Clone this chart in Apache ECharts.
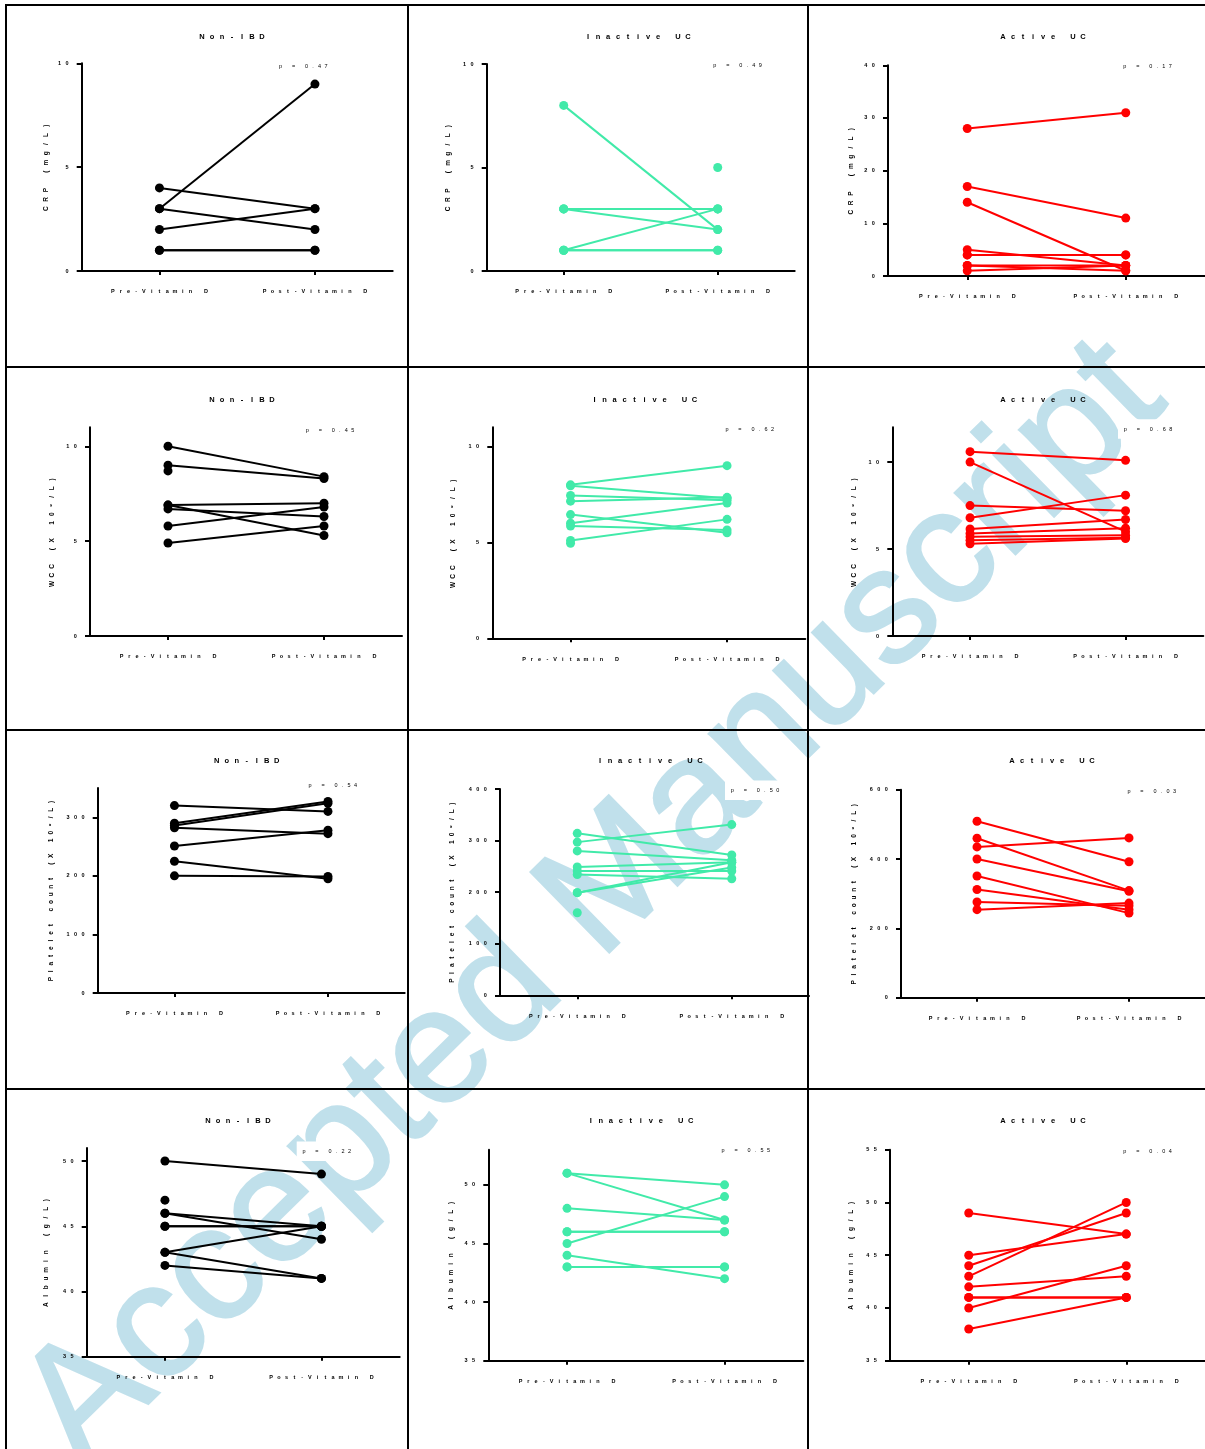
<!DOCTYPE html>
<html><head><meta charset="utf-8">
<script src="https://cdn.jsdelivr.net/npm/echarts@6/dist/echarts.min.js"></script>
<style>html,body{margin:0;padding:0;background:#fff}#c{width:1205px;height:1449px}</style>
</head><body><div id="c"></div>
<script>
// ---------------- data ----------------
const categories = ['Pre-Vitamin D', 'Post-Vitamin D'];
const groups = ['Non-IBD', 'Inactive UC', 'Active UC'];
const measures = ['CRP (mg/L)', 'WCC (X 10⁹/L)', 'Platelet count (X 10⁹/L)', 'Albumin (g/L)'];
const pLabels = [
  ['p = 0.47', 'p = 0.49', 'p = 0.17'],
  ['p = 0.45', 'p = 0.62', 'p = 0.68'],
  ['p = 0.54', 'p = 0.50', 'p = 0.03'],
  ['p = 0.22', 'p = 0.55', 'p = 0.04']
];
// y-axis ranges and tick labels
const yRanges = [
  [[0, 10], [0, 10], [0, 40]],
  [[0, 11], [0, 11], [0, 12]],
  [[0, 350], [0, 400], [0, 600]],
  [[35, 51], [35, 53], [35, 55]]
];
const yTicks = [
  [[0, 5, 10], [0, 5, 10], [0, 10, 20, 30, 40]],
  [[0, 5, 10], [0, 5, 10], [0, 5, 10]],
  [[0, 100, 200, 300], [0, 100, 200, 300, 400], [0, 200, 400, 600]],
  [[35, 40, 45, 50], [35, 40, 45, 50], [35, 40, 45, 50, 55]]
];
// paired values (pre / post) per panel, null = unpaired
const crpNonPre = [3, 4, 3, 2, 1, 1];
const crpNonPost = [9, 3, 2, 3, 1, 1];
const crpInPre = [8, 3, 3, 3, 1, 1, 1, null];
const crpInPost = [2, 3, 3, 2, 3, 1, 1, 5];
const crpActPre = [28, 17, 14, 5, 4, 4, 2, 2, 1];
const crpActPost = [31, 11, 1, 2, 4, 4, 2, 1, 2];

const wccNonPre = [10, 9.0, 8.7, 6.9, 6.9, 6.7, 5.8, 4.9];
const wccNonPost = [8.4, 8.3, null, 7.0, 5.3, 6.3, 6.8, 5.8];
const wccInPre = [8.0, 7.95, 7.45, 7.15, 6.45, 6.0, 5.85, 5.1, 4.95];
const wccInPost = [9.0, 7.3, 7.2, 7.35, 5.5, 7.05, 5.65, 6.2, null];
const wccActPre = [10.6, 10.0, 7.5, 6.8, 6.15, 5.9, 5.7, 5.5, 5.3];
const wccActPost = [10.1, 6.0, 7.2, 8.1, 6.7, 6.2, 5.8, 5.65, 5.6];

const pltNonPre = [320, 290, 286, 282, 251, 225, 200];
const pltNonPost = [310, 327, 324, 272, 278, 195, 199];
const pltInPre = [314, 297, 280, 249, 241, 234, 199, 199, 160];
const pltInPost = [272, 331, 262, 258, 241, 226, 258, 248, null];
const pltActPre = [509, 460, 435, 400, 351, 312, 276, 254];
const pltActPost = [392, 309, 461, 307, 244, 254, 265, 273];

const albNonPre = [50, 47, 46, 46, 45, 45, 43, 43, 42];
const albNonPost = [49, null, 45, 44, 45, 45, 45, 41, 41];
const albInPre = [51, 51, 48, 46, 46, 45, 44, 43, 43];
const albInPost = [50, 47, 47, 46, 46, 49, 42, 43, 43];
const albActPre = [49, 45, 44, 43, 42, 41, 41, 40, 38];
const albActPost = [47, 47, 49, 50, 43, 41, 41, 44, 41];

const panelData = [
  [[crpNonPre, crpNonPost], [crpInPre, crpInPost], [crpActPre, crpActPost]],
  [[wccNonPre, wccNonPost], [wccInPre, wccInPost], [wccActPre, wccActPost]],
  [[pltNonPre, pltNonPost], [pltInPre, pltInPost], [pltActPre, pltActPost]],
  [[albNonPre, albNonPost], [albInPre, albInPost], [albActPre, albActPost]]
];

// ---------------- layout / style ----------------
const groupColors = ['#000000', '#41eaa9', '#ff0000'];
// grid boxes [left, top, width, height]
const gridBoxes = [
  [[81.7, 63.3, 311, 207.7], [486.7, 64, 308, 207], [888, 65.3, 318, 210.7]],
  [[90, 427.3, 312, 208.7], [492.3, 427.3, 313, 211], [892.3, 427.3, 311, 208.7]],
  [[97.7, 788, 307, 205], [500, 789, 309, 206.3], [901, 789.7, 312, 208]],
  [[86.7, 1148, 313, 208.7], [488.3, 1149.7, 315, 211], [890, 1149.7, 316, 211]]
];
const nameGaps = [[31, 34, 33], [34, 35, 34], [42, 44, 43], [36, 33, 35]];
const namePitch = [9.2, 8.7, 7.7, 8.7];
const titlePos = [
  [[232, 36.5], [638, 36.5], [1043, 36.5]],
  [[242, 399.5], [644.5, 399.5], [1043, 399.5]],
  [[246.7, 760.5], [650, 761], [1052, 761]],
  [[238, 1120.5], [640.8, 1120.5], [1043, 1120.5]]
];
const pPos = [
  [[303.3, 66], [737.5, 65.5], [1147.5, 66]],
  [[330, 430], [749.7, 429], [1148, 429]],
  [[332.8, 785.3], [755, 790.3], [1151.7, 791.3]],
  [[326.7, 1151.3], [745.8, 1150.7], [1147.5, 1151.3]]
];
const FONT = '"Liberation Sans", Arial, sans-serif';

function spaced(s, key) {
  return Array.from(String(s)).map(ch => '{' + key + '|' + ch + '}').join('');
}
function tok(width, size, weight, color) {
  return { width: width, align: 'center', fontSize: size, fontWeight: weight, fontFamily: FONT, color: color, lineHeight: size + 2 };
}

const grids = [], xAxes = [], yAxes = [], series = [], graphics = [];

// watermark (behind everything)
graphics.push({
  type: 'text', x: 594, y: 904, rotation: 0.775, z: -10, silent: true,
  style: { text: 'Accepted Manuscript', font: 'normal 163px ' + FONT, fill: '#c0e0eb',
    stroke: '#c0e0eb', lineWidth: 2.5, align: 'center', verticalAlign: 'middle' }
});

let idx = 0;
for (let r = 0; r < 4; r++) {
  for (let c = 0; c < 3; c++) {
    const b = gridBoxes[r][c];
    grids.push({ left: b[0], top: b[1], width: b[2], height: b[3], containLabel: false });
    xAxes.push({
      type: 'category', gridIndex: idx, data: categories, boundaryGap: true,
      axisLine: { show: true, onZero: false, lineStyle: { color: '#000', width: 2 } },
      axisTick: { show: true, alignWithLabel: true, length: 4, lineStyle: { color: '#000', width: 2 } },
      axisLabel: { interval: 0, margin: 17, formatter: v => spaced(v, 'xl'), rich: { xl: tok(7.75, 5.5, 'bold', '#000') } },
      splitLine: { show: false }
    });
    const ticks = yTicks[r][c];
    yAxes.push({
      type: 'value', gridIndex: idx, min: yRanges[r][c][0], max: yRanges[r][c][1],
      axisLine: { show: true, lineStyle: { color: '#000', width: 2 } },
      axisTick: { show: true, length: 5, lineStyle: { color: '#000', width: 2 }, customValues: ticks },
      axisLabel: { customValues: ticks, margin: 11, formatter: v => spaced(v, 'tl'), rich: { tl: tok(7.5, 5.5, 'bold', '#000') } },
      splitLine: { show: false },
      name: spaced(measures[r], 'yn'), nameLocation: 'middle', nameRotate: 90, nameGap: nameGaps[r][c],
      nameTextStyle: { rich: { yn: tok(namePitch[r], 6.5, 'bold', '#000') } }
    });
    const [pre, post] = panelData[r][c];
    const col = groupColors[c];
    for (let i = 0; i < pre.length; i++) {
      series.push({
        type: 'line', xAxisIndex: idx, yAxisIndex: idx, data: [pre[i], post[i]],
        symbol: 'circle', symbolSize: 9, showSymbol: true, showAllSymbol: true,
        lineStyle: { color: col, width: 2 }, itemStyle: { color: col },
        silent: true, animation: false, z: 3
      });
    }
    // title
    graphics.push({
      type: 'text', x: titlePos[r][c][0], y: titlePos[r][c][1], z: 100, silent: true,
      style: { text: spaced(groups[c], 'tt'), align: 'center', verticalAlign: 'middle', rich: { tt: tok(10, 7.5, 'bold', '#000') } }
    });
    // p value
    graphics.push({
      type: 'text', x: pPos[r][c][0], y: pPos[r][c][1], z: 100, silent: true,
      style: { text: spaced(pLabels[r][c], 'pv'), align: 'center', verticalAlign: 'middle', backgroundColor: '#fff', padding: [6, 4],
        rich: { pv: tok(6.5, 5.5, 'normal', '#555') } }
    });
    idx++;
  }
}

// panel borders
const bl = (x1, y1, x2, y2) => ({ type: 'line', z: 200, silent: true, shape: { x1, y1, x2, y2 }, style: { stroke: '#000', lineWidth: 2 } });
graphics.push(bl(6, 5, 1205, 5));
graphics.push(bl(6, 367, 1205, 367));
graphics.push(bl(6, 730, 1205, 730));
graphics.push(bl(6, 1089, 1205, 1089));
graphics.push(bl(6, 4, 6, 1449));
graphics.push(bl(408, 4, 408, 1449));
graphics.push(bl(808, 4, 808, 1449));

const chart = echarts.init(document.getElementById('c'), null, { renderer: 'canvas' });
chart.setOption({
  animation: false,
  backgroundColor: '#fff',
  grid: grids, xAxis: xAxes, yAxis: yAxes, series: series,
  graphic: { elements: graphics }
});
</script></body></html>
